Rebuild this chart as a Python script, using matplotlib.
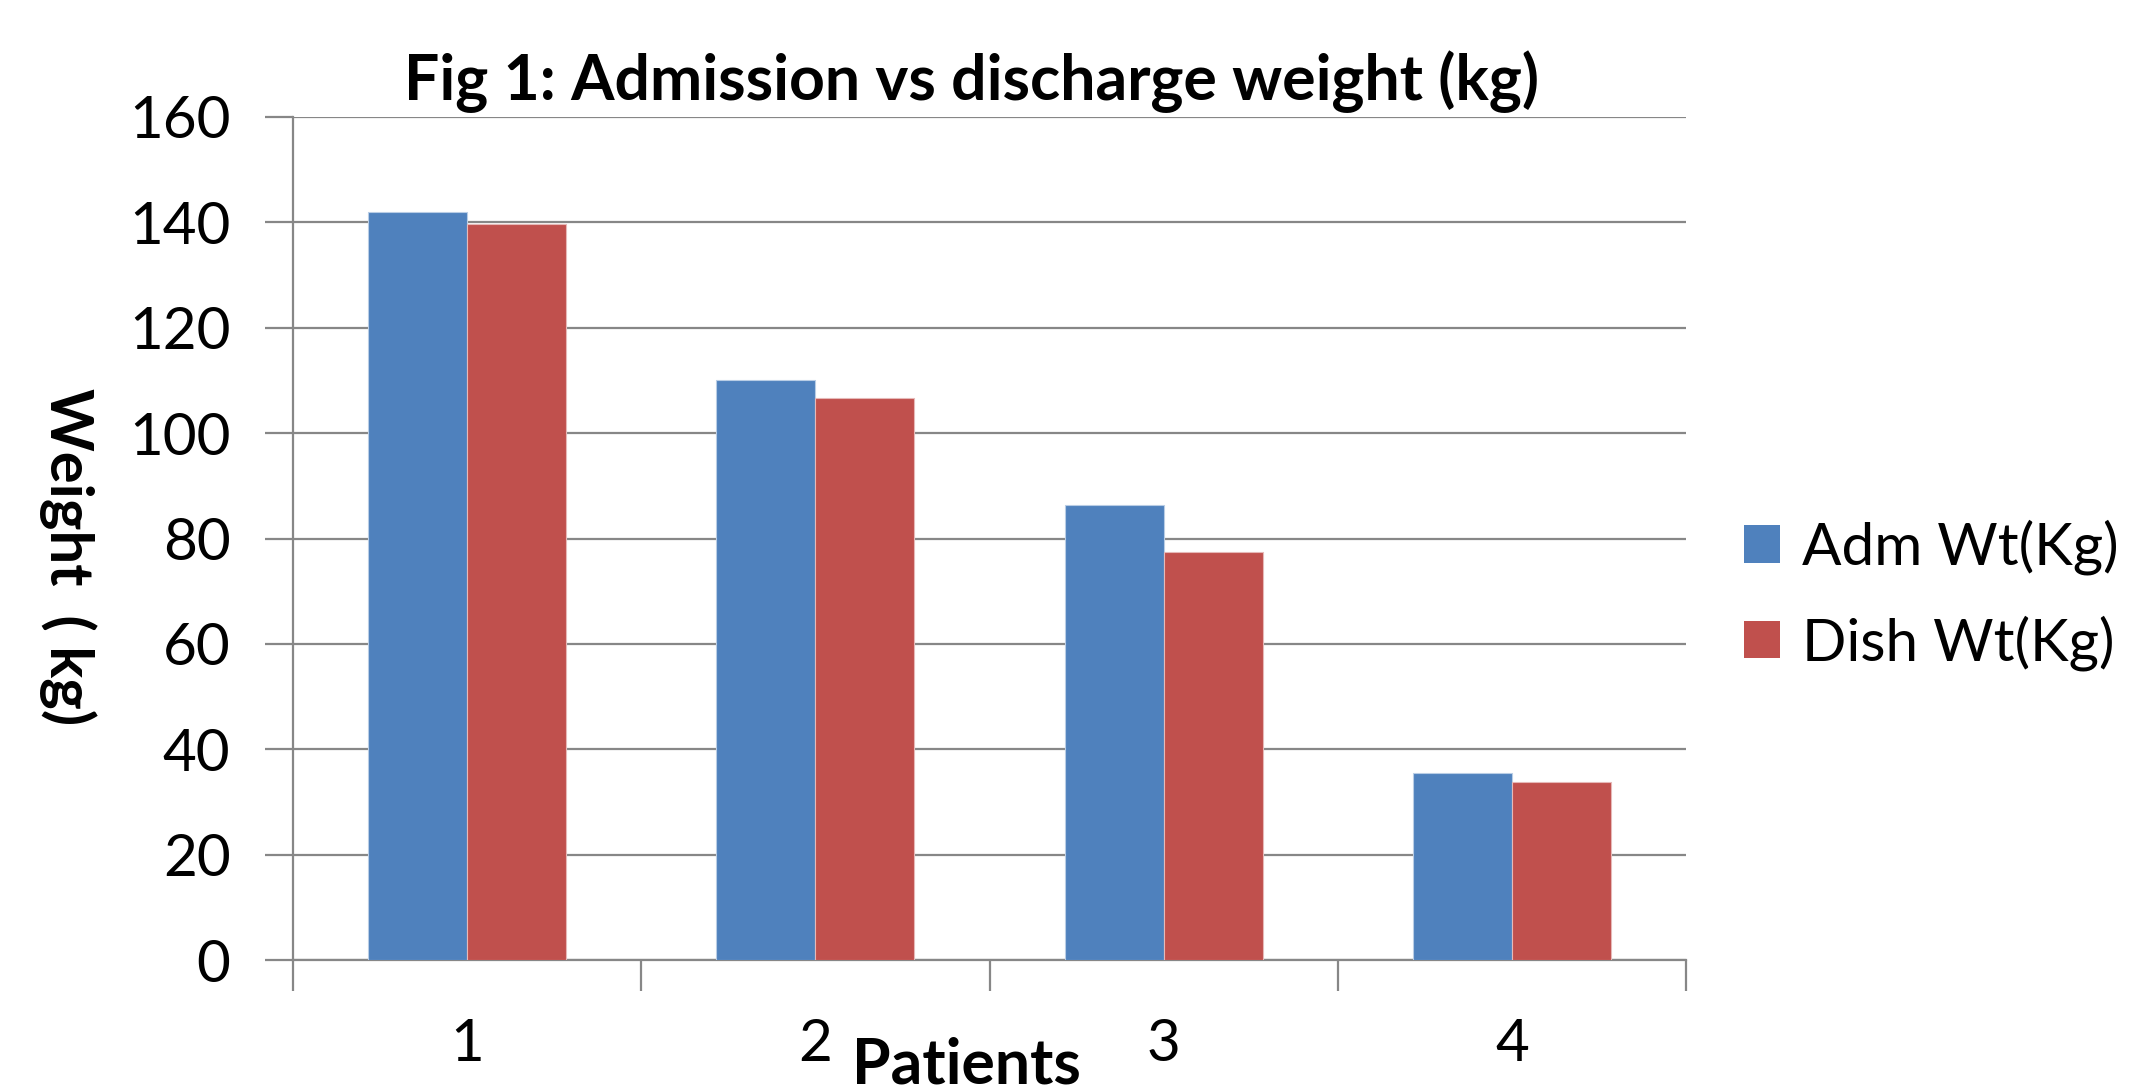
import matplotlib
matplotlib.use("Agg")
import matplotlib.pyplot as plt
import numpy as np
from matplotlib.patches import Patch

categories = ["1", "2", "3", "4"]
adm_wt = [142, 110, 86.4, 35.4]
dis_wt = [139.7, 106.6, 77.4, 33.8]
series_names = ["Adm Wt(Kg)", "Dish Wt(Kg)"]
yticks = [0, 20, 40, 60, 80, 100, 120, 140, 160]

plt.rcParams['font.family'] = ['Lato', 'DejaVu Sans']

blue = "#4F81BD"
red = "#C0504D"
grid_c = "#878787"

fig = plt.figure(figsize=(21.4, 10.87), dpi=100)
ax = fig.add_axes([293/2140, 1 - 960/1087, 1393/2140, 843/1087])

x = np.arange(len(categories))
w = 0.284
ax.bar(x - w/2, adm_wt, width=w, color=blue, edgecolor="#B9CDE5", linewidth=0.8, zorder=3)
ax.bar(x + w/2, dis_wt, width=w, color=red, edgecolor="#E6B9B8", linewidth=0.8, zorder=3)

ax.set_xlim(-0.5, len(categories) - 0.5)
ax.set_ylim(0, 160)
ax.set_yticks(yticks)
ax.set_yticklabels([str(t) for t in yticks], fontsize=42)
ax.yaxis.grid(True, color=grid_c, linewidth=1.6, zorder=0)
ax.set_axisbelow(True)

ax.set_xticks(x)
ax.set_xticklabels(categories, fontsize=42)
ax.set_xticks(np.arange(-0.5, len(categories)), minor=True)
ax.tick_params(axis='x', which='major', length=0, pad=42)
ax.tick_params(axis='x', which='minor', length=22, width=1.6, color=grid_c)
ax.tick_params(axis='y', which='major', length=20, width=1.6, color=grid_c, pad=25)

for s in ["top", "right"]:
    ax.spines[s].set_visible(False)
for s in ["left", "bottom"]:
    ax.spines[s].set_color(grid_c)
    ax.spines[s].set_linewidth(1.6)

fig.text(972/2140, 1 - 82/1087, "Fig 1: Admission vs discharge weight (kg)",
         ha='center', va='center', fontsize=45, fontweight='bold')
fig.text(966/2140, 1 - 1066/1087, "Patients", ha='center', va='center',
         fontsize=45, fontweight='bold')
fig.text(68/2140, 1 - 557/1087, "Weight  ( kg)", ha='center', va='center',
         fontsize=43, fontweight='bold', rotation=270)

handles = [Patch(facecolor=blue, edgecolor='none'), Patch(facecolor=red, edgecolor='none')]
fig.legend(handles, series_names, loc='center left', bbox_to_anchor=(1744/2140, 1 - 595/1087),
           frameon=False, fontsize=42, handlelength=0.62, handleheight=0.62,
           handletextpad=0.38, labelspacing=0.68, borderpad=0, borderaxespad=0)

fig.savefig("out.png", dpi=100)
